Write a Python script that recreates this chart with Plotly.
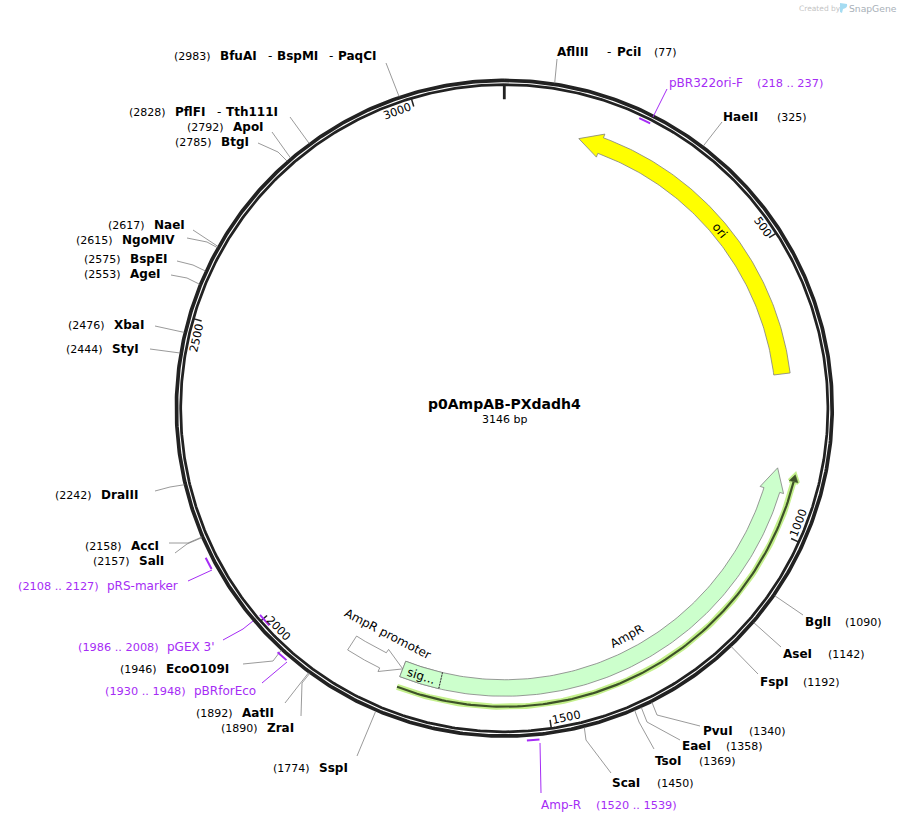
import numpy as np
import plotly.graph_objects as go

# plasmid
plasmid_name = "p0AmpAB-PXdadh4"
plasmid_bp = 3146
ruler_ticks = [500, 1000, 1500, 2000, 2500, 3000]

# features as (tail bp, tip bp)
feature_names = ["ori", "AmpR", "AmpR promoter"]
feature_tails = [725, 1759, 1861]
feature_tips = [135, 894, 1759]
feature_fills = ["#ffff00", "#ccffcc", "#ffffff"]
signal_start = 1688
signal_end = 1759
translation_start = 1757
translation_tip = 899

# enzyme sites
enzyme_sites = [77, 325, 1090, 1142, 1192, 1340, 1358, 1369, 1450, 1774, 1890, 1892, 1946,
                2157, 2158, 2242, 2444, 2476, 2553, 2575, 2615, 2617, 2785, 2792, 2828, 2983]
enzyme_names = ["AflIII - PciI", "HaeII", "BglI", "AseI", "FspI", "PvuI", "EaeI", "TsoI", "ScaI",
                "SspI", "ZraI", "AatII", "EcoO109I", "SalI", "AccI", "DraIII", "StyI", "XbaI",
                "AgeI", "BspEI", "NgoMIV", "NaeI", "BtgI", "ApoI", "PflFI - Tth111I",
                "BfuAI - BspMI - PaqCI"]

# primers
primer_names = ["pBR322ori-F", "Amp-R", "pBRforEco", "pGEX 3'", "pRS-marker"]
primer_starts = [218, 1520, 1930, 1986, 2108]
primer_ends = [237, 1539, 1948, 2008, 2127]

# page layout, in pixels
W, H = 897, 823
CX, CY = 504.3, 408.25
R_OUT, R_IN = 327.9, 323.6
GREY = "#808080"
PURPLE = "#a52cf5"
INK = "#222222"
FONT = "DejaVu Sans"

# site: (y, position label x, [x of each name part], [x of dashes], leader points from label to ring)
enzyme_layout = {
    77: (52, 654, [557, 617], [607], [(557, 59)]),
    325: (117, 777, [723], [], [(722, 122)]),
    1090: (622, 845, [805], [], [(803, 615)]),
    1142: (654, 828, [783], [], [(781, 647)]),
    1192: (682, 803, [760], [], [(758, 674)]),
    1340: (731, 749, [703], [], [(700, 726), (657, 715)]),
    1358: (746, 726, [682], [], [(680, 740), (647, 722)]),
    1369: (761, 699, [655], [], [(654, 749), (639, 722)]),
    1450: (783, 657, [612], [], [(611, 773), (586, 740)]),
    1774: (768, 273, [319], [], [(357, 756)]),
    1890: (728, 221, [267], [], [(301, 716), (302, 683)]),
    1892: (713, 196, [242], [], [(285, 703)]),
    1946: (669, 120, [166], [], [(243, 664), (273, 661)]),
    2157: (561, 93, [139], [], [(175, 553), (187, 544)]),
    2158: (546, 85, [131], [], [(169, 543), (188, 543)]),
    2242: (495, 55, [101], [], [(155, 491), (170, 487)]),
    2444: (349, 66, [112], [], [(150, 349)]),
    2476: (325, 68, [114], [], [(155, 326)]),
    2553: (274, 84, [130], [], [(171, 275), (187, 278)]),
    2575: (259, 84, [130], [], [(177, 261), (193, 265)]),
    2615: (240, 76, [122], [], [(187, 238), (207, 242)]),
    2617: (225, 108, [154], [], [(193, 230)]),
    2785: (142, 175, [221], [], [(258, 143), (278, 152)]),
    2792: (127, 187, [233], [], [(272, 132)]),
    2828: (112, 129, [175, 226], [217], [(290, 117)]),
    2983: (56, 174, [220, 277, 338], [268, 329], [(386, 63)]),
}

# primer: (tick radius, y, name x, range x, leader points from label to tick)
primer_layout = {
    "pBR322ori-F": (320, 83, 669, 757, [(667, 89), (653, 117)]),
    "Amp-R": (333, 805, 541, 596, [(541, 793), (540, 743)]),
    "pBRforEco": (333, 691, 194, 105, [(262, 683), (287, 662)]),
    "pGEX 3'": (320, 647, 167, 78, [(223, 640), (243, 629), (253, 621)]),
    "pRS-marker": (334, 586, 107, 18, [(188, 581), (212, 570)]),
}


def to_xy(bp, r):
    a = np.radians(np.asarray(bp, dtype=float) / plasmid_bp * 360)
    return CX + r * np.sin(a), CY - r * np.cos(a)


def arc(bp0, bp1, r, n=120):
    return to_xy(np.linspace(bp0, bp1, n), r)


def text_angle(bp):
    a = bp / plasmid_bp * 360
    if a <= 90:
        return a
    if a <= 270:
        return a - 180
    return a - 360


fig = go.Figure()
notes = []


def line(xs, ys, color=GREY, width=0.8, dash=None):
    fig.add_trace(go.Scatter(x=list(xs), y=list(ys), mode="lines", hoverinfo="skip",
                             line=dict(color=color, width=width, dash=dash)))


def polygon(xs, ys, fill, color=GREY, width=0.8):
    fig.add_trace(go.Scatter(x=list(xs), y=list(ys), mode="lines", fill="toself", fillcolor=fill,
                             hoverinfo="skip", line=dict(color=color, width=width)))


def label(x, y, text, size=11, color="#000000", bold=False, anchor="left", angle=0):
    if bold:
        text = "<b>" + text + "</b>"
    if anchor == "left":
        x -= 1
    notes.append(dict(x=x, y=y, text=text, showarrow=False, xanchor=anchor, yanchor="middle",
                      textangle=angle, borderpad=0, font=dict(family=FONT, size=size, color=color)))


def arrow_outline(tail, tip, head=41, r_in=271.5, r_out=288, hr_in=267.5, hr_out=292):
    step = 1 if tip > tail else -1
    base = tip - step * head
    x0, y0 = arc(tail, base, r_out)
    hx, hy = to_xy([base, tip, base], [hr_out, (r_in + r_out) / 2, hr_in])
    x1, y1 = arc(base, tail, r_in)
    return (list(x0) + list(hx) + list(x1) + [x0[0]], list(y0) + list(hy) + list(y1) + [y0[0]])


# backbone
line(*arc(0, plasmid_bp, R_OUT, 720), color=INK, width=3.7)
line(*arc(0, plasmid_bp, R_IN, 720), color=INK, width=2.75)
line(*to_xy([0, 0], [R_IN, 309]), color=INK, width=2.8)
for t in ruler_ticks:
    line(*to_xy([t, t], [R_IN, 315]), color=INK, width=1.5)
    # the 500 label sits a little closer to its tick than the others
    offset_deg = 2.2 if t == 500 else 3.1
    offset_bp = t - offset_deg / 360 * plasmid_bp
    x, y = to_xy(offset_bp, 316 if t == 500 else 315.5)
    label(x, y, str(t), size=11.3, anchor="center", angle=text_angle(offset_bp))

# features
for name, tail, tip, fill in zip(feature_names, feature_tails, feature_tips, feature_fills):
    head = 38 if name == "AmpR promoter" else 41
    polygon(*arrow_outline(tail, tip, head), fill)

# signal peptide
sx0, sy0 = arc(signal_end, signal_start, 288, 20)
sx1, sy1 = arc(signal_start, signal_end, 271.5, 20)
polygon(list(sx0) + list(sx1) + [sx0[0]], list(sy0) + list(sy1) + [sy0[0]], "#ccffcc")
line(*to_xy([signal_start, signal_start], [271.5, 288]), color="#000000", width=1, dash="1px,2px")

ori_bp = (feature_tails[0] + feature_tips[0]) / 2 + 12
x, y = to_xy(ori_bp, 279.5)
label(x, y, "ori", size=12, anchor="center", angle=text_angle(ori_bp))
amp_bp = 1325
x, y = to_xy(amp_bp, 259)
label(x, y, "AmpR", size=12, anchor="center", angle=text_angle(amp_bp))
prom_bp = 1812
x, y = to_xy(prom_bp, 254)
label(x, y, "AmpR promoter", size=12, anchor="center", angle=text_angle(prom_bp))
sig_bp = (signal_start + signal_end) / 2
x, y = to_xy(sig_bp, 280)
label(x, y, "sig...", size=12, anchor="center", angle=text_angle(sig_bp))

# translation line under AmpR
hx, hy = to_xy([translation_tip + 12, translation_tip, translation_tip + 12, translation_tip + 12], [294, 298.5, 303, 294])
line(*arc(translation_start, translation_tip + 12, 298.5), color="#c4f08c", width=6)
polygon(hx, hy, "#c4f08c", color="#c4f08c", width=4)
line(*arc(translation_start, translation_tip + 12, 298.5), color="#3e5229", width=2.2)
polygon(hx, hy, "#3e5229", color="#3e5229", width=0.5)

# enzymes
for site, name in zip(enzyme_sites, enzyme_names):
    y, pos_x, name_xs, dash_xs, leader = enzyme_layout[site]
    rx, ry = to_xy(site, R_OUT + 1)
    line([p[0] for p in leader] + [rx], [p[1] for p in leader] + [ry])
    label(pos_x, y, "(%d)" % site, size=11)
    for part, px in zip(name.split(" - "), name_xs):
        label(px, y, part, size=12, bold=True)
    for dx in dash_xs:
        label(dx, y, "-", size=12)

# primers
for name, start, end in zip(primer_names, primer_starts, primer_ends):
    r, y, name_x, range_x, leader = primer_layout[name]
    line(*to_xy([start, end], [r, r]), color=PURPLE, width=2)
    line([p[0] for p in leader], [p[1] for p in leader], color=PURPLE, width=1)
    label(name_x, y, name, size=12, color=PURPLE)
    label(range_x, y, "(%d .. %d)" % (start, end), size=11.3, color=PURPLE)

# centre title
label(CX, 404, plasmid_name, size=14, bold=True, anchor="center")
label(CX, 419, "%d bp" % plasmid_bp, size=11, anchor="center")

# watermark
label(799, 8, "Created by", size=7.5, color="#c4c4c4")
label(849, 8, "SnapGene", size=9.2, color="#a8b0b8")

fig.update_layout(
    width=W, height=H, margin=dict(l=0, r=0, t=0, b=0), autosize=False,
    showlegend=False, plot_bgcolor="#ffffff", paper_bgcolor="#ffffff",
    xaxis=dict(range=[0, W], visible=False, fixedrange=True),
    yaxis=dict(range=[H, 0], visible=False, fixedrange=True),
    annotations=notes,
    shapes=[dict(type="path", xref="x", yref="y", fillcolor="#a5dcf2", line=dict(width=0),
                 path="M 840 3 L 847 4 Q 848 8 843 9 L 842 13 L 840 12 Z")],
)

fig.write_html("out.html", config={"displayModeBar": False},
               post_script="document.body.style.margin='0';document.body.style.overflow='hidden';")
